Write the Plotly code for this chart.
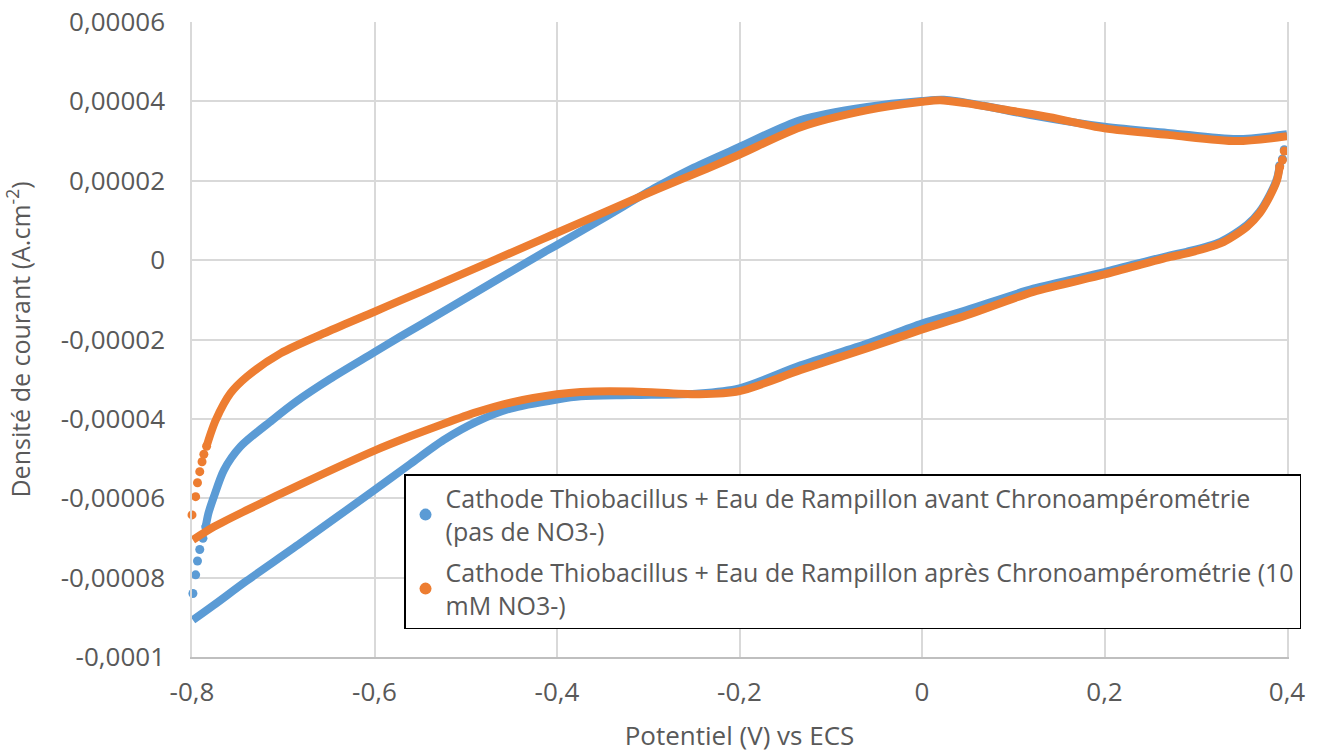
import plotly.graph_objects as go

# ---- data (V vs ECS, current density in units of 1e-5 A.cm-2) ----
blue_fwd_v = [-0.799, -0.776, -0.74, -0.681, -0.6, -0.561, -0.524, -0.488, -0.451, -0.4, -0.374,
              -0.317, -0.244, -0.2, -0.133, -0.06, 0.0, 0.049, 0.122, 0.2, 0.272, 0.29, 0.327, 0.356,
              0.37, 0.381, 0.389, 0.392]
blue_fwd_j = [-9.07, -8.69, -8.08, -7.13, -5.79, -5.14, -4.53, -4.07, -3.74, -3.51, -3.43,
              -3.40, -3.36, -3.23, -2.65, -2.10, -1.60, -1.26, -0.72, -0.30, 0.12, 0.21, 0.46, 0.88,
              1.22, 1.64, 2.05, 2.38]
blue_rev_v = [0.4, 0.345, 0.272, 0.2, 0.122, 0.0675, 0.024, 0.0, -0.06, -0.133, -0.2, -0.25, -0.291,
              -0.346, -0.4, -0.418, -0.539, -0.572, -0.6, -0.649, -0.685, -0.712, -0.747, -0.765,
              -0.776, -0.782, -0.785]
blue_rev_j = [3.17, 3.05, 3.20, 3.36, 3.64, 3.89, 4.04, 4.01, 3.86, 3.53, 2.85, 2.33, 1.84,
              1.10, 0.38, 0.15, -1.49, -1.93, -2.32, -3.00, -3.55, -4.03, -4.70, -5.29,
              -5.96, -6.38, -6.72]
blue_tail_hi_v = [0.392, 0.395, 0.397]
blue_tail_hi_j = [2.38, 2.55, 2.78]
blue_tail_lo_v = [-0.785, -0.788, -0.7915, -0.794, -0.796, -0.799]
blue_tail_lo_j = [-6.72, -7.01, -7.29, -7.58, -7.93, -8.40]

orange_fwd_v = [-0.799, -0.776, -0.74, -0.681, -0.6, -0.561, -0.524, -0.488, -0.451, -0.4, -0.374,
                -0.317, -0.244, -0.2, -0.133, -0.06, 0.0, 0.049, 0.122, 0.2, 0.272, 0.29, 0.327, 0.356,
                0.37, 0.381, 0.389, 0.392]
orange_fwd_j = [-7.05, -6.72, -6.30, -5.65, -4.80, -4.44, -4.12, -3.83, -3.59, -3.38, -3.32,
                -3.31, -3.38, -3.30, -2.77, -2.22, -1.75, -1.39, -0.80, -0.36, 0.08, 0.17, 0.42, 0.84,
                1.18, 1.60, 2.01, 2.35]
orange_rev_v = [0.4, 0.345, 0.272, 0.2, 0.14, 0.104, 0.049, 0.02, 0.0, -0.06, -0.133, -0.2, -0.236,
                -0.291, -0.346, -0.4, -0.418, -0.539, -0.572, -0.6, -0.649, -0.703, -0.74, -0.758,
                -0.774, -0.78, -0.784]
orange_rev_j = [3.12, 3.00, 3.15, 3.32, 3.60, 3.74, 3.95, 4.03, 3.99, 3.78, 3.35, 2.66, 2.30,
                1.78, 1.23, 0.69, 0.51, -0.70, -1.02, -1.30, -1.78, -2.35, -2.94, -3.36,
                -4.03, -4.40, -4.69]
orange_tail_hi_v = [0.392, 0.395, 0.397]
orange_tail_hi_j = [2.35, 2.52, 2.75]
orange_tail_lo_v = [-0.784, -0.787, -0.789, -0.7915, -0.794, -0.796, -0.8]
orange_tail_lo_j = [-4.69, -4.89, -5.08, -5.33, -5.61, -5.96, -6.42]

series_names = [
    "Cathode Thiobacillus + Eau de Rampillon avant Chronoampérométrie<br>(pas de NO3-)",
    "Cathode Thiobacillus + Eau de Rampillon après Chronoampérométrie (10<br>mM NO3-)",
]
colors = ["#5B9BD5", "#ED7D31"]

y_tickvals = [0.00006, 0.00004, 0.00002, 0, -0.00002, -0.00004, -0.00006, -0.00008, -0.0001]
y_ticktext = ["0,00006", "0,00004", "0,00002", "0", "-0,00002", "-0,00004", "-0,00006", "-0,00008", "-0,0001"]
x_tickvals = [-0.8, -0.6, -0.4, -0.2, 0, 0.2, 0.4]
x_ticktext = ["-0,8", "-0,6", "-0,4", "-0,2", "0", "0,2", "0,4"]

SCALE = 1e-5
FONT = "Open Sans"
GRAY = "#595959"


def sc(vals):
    return [v * SCALE for v in vals]


fig = go.Figure()

datasets = [
    (blue_fwd_v, blue_fwd_j, blue_rev_v, blue_rev_j, blue_tail_hi_v, blue_tail_hi_j, blue_tail_lo_v, blue_tail_lo_j),
    (orange_fwd_v, orange_fwd_j, orange_rev_v, orange_rev_j, orange_tail_hi_v, orange_tail_hi_j, orange_tail_lo_v, orange_tail_lo_j),
]

for i, (fv, fj, rv, rj, thv, thj, tlv, tlj) in enumerate(datasets):
    c = colors[i]
    fig.add_trace(go.Scatter(
        x=fv + [None] + rv, y=sc(fj) + [None] + sc(rj),
        mode="lines", line=dict(color=c, width=8, shape="spline", smoothing=0.8),
        showlegend=False, hoverinfo="skip", legendgroup=str(i),
    ))
    fig.add_trace(go.Scatter(
        x=thv + tlv, y=sc(thj) + sc(tlj),
        mode="markers", marker=dict(color=c, size=9),
        name=series_names[i], legendgroup=str(i), cliponaxis=False,
    ))

fig.update_layout(
    width=1323, height=753,
    paper_bgcolor="white", plot_bgcolor="white",
    margin=dict(l=192, r=36, t=22, b=96),
    font=dict(family=FONT, color=GRAY, size=24),
    showlegend=True,
    legend=dict(
        x=1.0128, y=0.288, xanchor="right", yanchor="top",
        bgcolor="white", bordercolor="black", borderwidth=1.5,
        font=dict(family=FONT, size=25, color=GRAY),
        itemsizing="constant", tracegroupgap=6, itemwidth=30,
    ),
    xaxis=dict(
        range=[-0.8, 0.4], tickvals=x_tickvals, ticktext=x_ticktext,
        showgrid=True, gridcolor="#d9d9d9", gridwidth=1.5,
        zeroline=False, showline=True, linecolor="#bfbfbf", linewidth=1.5,
        ticks="", ticklabelstandoff=11, automargin=False,
        tickfont=dict(family=FONT, size=26, color=GRAY),
        title=dict(text="Potentiel (V) vs ECS", font=dict(family=FONT, size=26, color=GRAY), standoff=37),
    ),
    yaxis=dict(
        range=[-0.0001, 0.00006], tickvals=y_tickvals, ticktext=y_ticktext,
        showgrid=True, gridcolor="#d9d9d9", gridwidth=1.5,
        zeroline=False, showline=True, linecolor="#d9d9d9", linewidth=1.5, mirror=True,
        ticks="", ticklabelstandoff=20, automargin=False,
        tickfont=dict(family=FONT, size=26, color=GRAY),
        title=dict(text="Densité de courant (A.cm<sup>-2</sup>)", font=dict(family=FONT, size=25, color=GRAY), standoff=34),
    ),
)

# remove the browser's default 8px body margin so the figure fills the window exactly
fig.write_html("out.html", config={"displayModeBar": False},
               post_script="document.body.style.margin='0';")
